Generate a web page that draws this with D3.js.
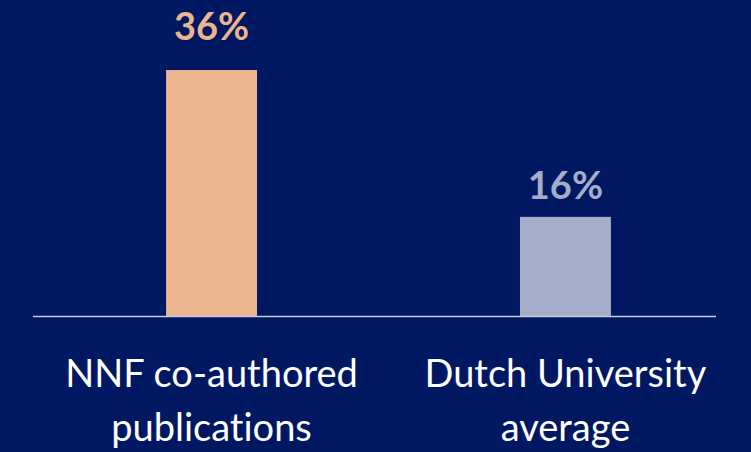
<!DOCTYPE html>
<html>
<head>
<meta charset="utf-8">
<script src="https://cdn.jsdelivr.net/npm/d3@7"></script>
<style>
  html, body { margin: 0; padding: 0; background: #001862; }
  svg { display: block; }
  text { font-variant-ligatures: none; }
</style>
</head>
<body>
<div id="chart"></div>
<script>
const categories = [["NNF co-authored", "publications"], ["Dutch University", "average"]];
const values = [36, 16];
const valueLabels = ["36%", "16%"];
const barColors = ["#ebb68f", "#a5aec8"];

const width = 751,
  height = 452,
  baseY = 316,
  topY = 70;

const svg = d3
  .select("#chart")
  .append("svg")
  .attr("width", width)
  .attr("height", height);

svg.append("rect").attr("width", width).attr("height", height).attr("fill", "#001862");

const xScale = d3
  .scaleBand()
  .domain(d3.range(values.length))
  .range([33, 744])
  .paddingInner(0.743)
  .paddingOuter(0.376);

// axis in the original does not start at zero
const yScale = d3.scaleLinear().domain([2.5, 36]).range([baseY, topY]);

svg
  .selectAll(".bar")
  .data(values)
  .enter()
  .append("rect")
  .attr("class", "bar")
  .attr("x", (d, i) => xScale(i))
  .attr("y", (d) => yScale(d))
  .attr("width", xScale.bandwidth())
  .attr("height", (d) => baseY - yScale(d))
  .attr("fill", (d, i) => barColors[i]);

svg
  .append("line")
  .attr("x1", 33)
  .attr("x2", 716)
  .attr("y1", baseY + 0.5)
  .attr("y2", baseY + 0.5)
  .attr("stroke", "#c4c9dc")
  .attr("stroke-width", 1.5);

const labelGap = [30, 18];
svg
  .selectAll(".value")
  .data(values)
  .enter()
  .append("text")
  .attr("class", "value")
  .attr("x", (d, i) => xScale(i) + xScale.bandwidth() / 2)
  .attr("y", (d, i) => yScale(d) - labelGap[i])
  .attr("text-anchor", "middle")
  .attr("font-family", "Lato, sans-serif")
  .attr("font-weight", "bold")
  .attr("font-size", "38px")
  .attr("fill", (d, i) => barColors[i])
  .text((d, i) => valueLabels[i]);

const cat = svg
  .selectAll(".cat")
  .data(categories)
  .enter()
  .append("text")
  .attr("class", "cat")
  .attr("x", (d, i) => xScale(i) + xScale.bandwidth() / 2)
  .attr("y", 387)
  .attr("text-anchor", "middle")
  .attr("font-family", "Lato, sans-serif")
  .attr("font-size", "38px")
  .attr("fill", "#ffffff");

cat
  .selectAll("tspan")
  .data((d) => d)
  .enter()
  .append("tspan")
  .attr("x", function () {
    return this.parentNode.getAttribute("x");
  })
  .attr("dy", (d, i) => (i === 0 ? 0 : 54))
  .text((d) => d);
</script>
</body>
</html>
